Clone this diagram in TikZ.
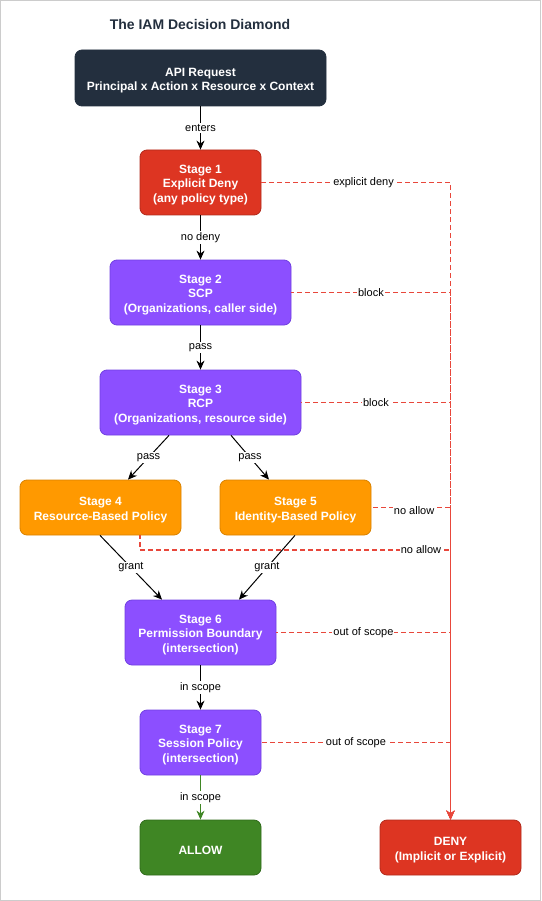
\documentclass[tikz,border=0pt]{standalone}
\usepackage{fontspec}
\setmainfont{Liberation Sans}
\usetikzlibrary{arrows.meta,calc}
\definecolor{navy}{HTML}{232F3E}
\definecolor{redbox}{HTML}{DD3522}
\definecolor{redline}{HTML}{E8473B}
\definecolor{purp}{HTML}{8C4FFF}
\definecolor{purpd}{HTML}{7040E0}
\definecolor{orng}{HTML}{FF9900}
\definecolor{orngd}{HTML}{D98200}
\definecolor{grn}{HTML}{3F8624}
\definecolor{grnd}{HTML}{2F6A1A}
\begin{document}
\begin{tikzpicture}[x=1pt,y=-1pt,
  box/.style={rounded corners=7pt, inner sep=0pt, line width=0.8pt},
  boxtext/.style={align=center, text=white, font=\fontsize{12}{14.5}\selectfont\bfseries, inner sep=0pt, yshift=-2.5pt},
  navybox/.style={box, fill=navy, draw=navy},
  redn/.style={box, fill=redbox, draw=redbox!80!black},
  purpn/.style={box, fill=purp, draw=purpd},
  orngn/.style={box, fill=orng, draw=orngd},
  grnn/.style={box, fill=grn, draw=grnd},
  flow/.style={draw=black, line width=1pt, -{Stealth[length=9pt,width=8pt]}},
  lbl/.style={fill=white, inner sep=1pt, font=\fontsize{11}{12}\selectfont, text=black},
  deny/.style={draw=redline, line width=1.2pt, dash pattern=on 5pt off 3pt, -{Stealth[length=9pt,width=8pt]}},
]
\useasboundingbox (0,0) rectangle (541,901);
\draw[draw=black!20, line width=1pt] (0.5,0.5) rectangle (540.5,900.5);
\node[font=\fontsize{14}{16}\selectfont\bfseries, text=navy] (title) at (200,24) {The IAM Decision Diamond};

\node[navybox, minimum width=251pt, minimum height=56pt,
  label={[boxtext, name=apit]center:{API Request\\Principal x Action x Resource x Context}}] (api) at (200.5,78) {};
\node[redn, minimum width=121pt, minimum height=65pt,
  label={[boxtext, name=s1t]center:{Stage 1\\Explicit Deny\\(any policy type)}}] (s1) at (200.5,182.5) {};
\node[purpn, minimum width=181pt, minimum height=65pt,
  label={[boxtext, name=s2t]center:{Stage 2\\SCP\\(Organizations, caller side)}}] (s2) at (200.5,292.5) {};
\node[purpn, minimum width=201pt, minimum height=65pt,
  label={[boxtext, name=s3t]center:{Stage 3\\RCP\\(Organizations, resource side)}}] (s3) at (200.5,402.5) {};
\node[orngn, minimum width=161pt, minimum height=55pt,
  label={[boxtext, name=s4t]center:{Stage 4\\Resource-Based Policy}}] (s4) at (100.5,507.5) {};
\node[orngn, minimum width=151pt, minimum height=55pt,
  label={[boxtext, name=s5t]center:{Stage 5\\Identity-Based Policy}}] (s5) at (295.5,507.5) {};
\node[purpn, minimum width=151pt, minimum height=65pt,
  label={[boxtext, name=s6t]center:{Stage 6\\Permission Boundary\\(intersection)}}] (s6) at (200.5,632.5) {};
\node[purpn, minimum width=121pt, minimum height=65pt,
  label={[boxtext, name=s7t]center:{Stage 7\\Session Policy\\(intersection)}}] (s7) at (200.5,742.5) {};
\node[grnn, minimum width=121pt, minimum height=55pt,
  label={[boxtext, name=allowt]center:{ALLOW}}] (allow) at (200.5,847.5) {};
\node[redn, minimum width=141pt, minimum height=55pt,
  label={[boxtext, name=denyt]center:{DENY\\(Implicit or Explicit)}}] (deny) at (450.5,847.5) {};

% main flow
\path[flow] (api.south) -- node[lbl]{enters} (s1.north);
\path[flow] (s1.south) -- node[lbl]{no deny} (s2.north);
\path[flow] (s2.south) -- node[lbl]{pass} (s3.north);
\path[flow] (s3.south -| 169,0) -- node[lbl]{pass} (s4.north -| 128,0);
\path[flow] (s3.south -| 231,0) -- node[lbl]{pass} (s5.north -| 269,0);
\path[flow] (s4.south -| 100,0) -- node[lbl]{grant} (s6.north -| 162,0);
\path[flow] (s5.south -| 295,0) -- node[lbl]{grant} (s6.north -| 239,0);
\path[flow] (s6.south) -- node[lbl]{in scope} (s7.north);
\path[flow, draw=grn, color=grn] (s7.south) -- node[lbl]{in scope} (allow.north);

% deny paths
\coordinate (trunk) at (deny.north);
\path[deny] (s1.east) -- node[lbl, pos=0.54]{explicit deny} (s1.east -| trunk) -- (trunk);
\path[deny, dash phase=2pt] (s2.east) -- node[lbl, pos=0.5]{block} (s2.east -| trunk) -- (trunk);
\path[deny, dash phase=4pt] (s3.east) -- node[lbl, pos=0.5]{block} (s3.east -| trunk) -- (trunk);
\path[deny, dash phase=6pt] (s5.east) -- node[lbl, pos=0.54, yshift=-3pt]{no allow} (s5.east -| trunk) -- (trunk);
\path[deny, dash phase=1pt] (s4.south -| 140,0) -- (140,550) -- node[lbl, pos=0.905]{no allow} (trunk |- 0,550) -- (trunk);
\path[deny, dash phase=3pt] (s6.east) -- node[lbl, pos=0.5]{out of scope} (s6.east -| trunk) -- (trunk);
\path[deny, dash phase=7pt] (s7.east) -- node[lbl, pos=0.5]{out of scope} (s7.east -| trunk) -- (trunk);
\end{tikzpicture}
\end{document}
